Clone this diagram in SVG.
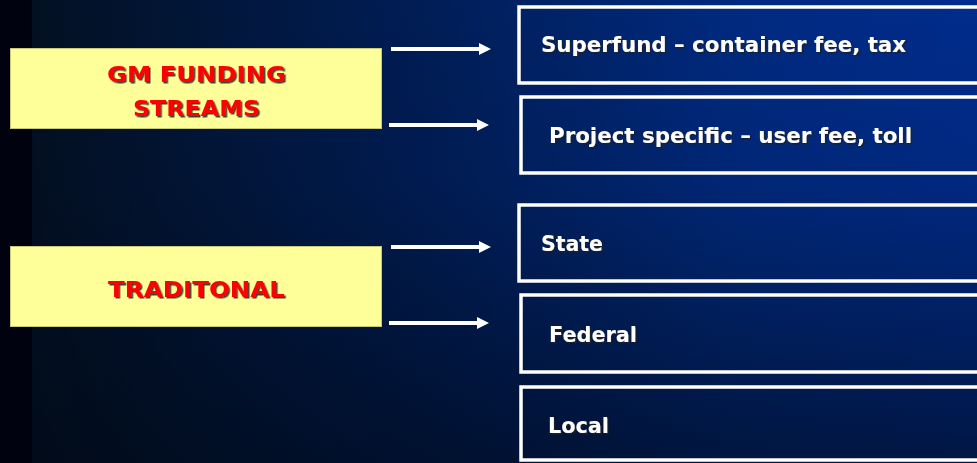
<svg xmlns="http://www.w3.org/2000/svg" width="977" height="463" viewBox="0 0 977 463">
  <defs>
    <linearGradient id="bgH" x1="0" y1="0" x2="1" y2="0">
      <stop offset="0" stop-color="#030f1e"/>
      <stop offset="0.4" stop-color="#001c52"/>
      <stop offset="0.75" stop-color="#002a80"/>
      <stop offset="1" stop-color="#002c8c"/>
    </linearGradient>
    <linearGradient id="bgV" x1="0" y1="0" x2="0" y2="1">
      <stop offset="0" stop-color="#000814" stop-opacity="0"/>
      <stop offset="0.4" stop-color="#000814" stop-opacity="0.1"/>
      <stop offset="1" stop-color="#000814" stop-opacity="0.6"/>
    </linearGradient>
    <filter id="shadow" x="-5%" y="-20%" width="110%" height="140%">
      <feDropShadow dx="1.5" dy="1.5" stdDeviation="0.2" flood-color="#1a1a1a" flood-opacity="0.85"/>
    </filter>
    <marker id="arrow" markerWidth="12" markerHeight="12" refX="0" refY="6" orient="auto" markerUnits="userSpaceOnUse">
      <path d="M0,0 L12,6 L0,12 Z" fill="#ffffff"/>
    </marker>
    <style>
      .ybox { fill: #ffff99; stroke: #c8c878; stroke-width: 1; }
      .wbox { fill: none; stroke: #ffffff; stroke-width: 3.5; }
      .red { font-family: "DejaVu Sans", "Liberation Sans", sans-serif; font-weight: bold; font-size: 22px; fill: #ff0000; filter: url(#shadow); }
      .wt { font-family: "DejaVu Sans", "Liberation Sans", sans-serif; font-weight: bold; font-size: 21px; fill: #ffffff; filter: url(#shadow); }
      .conn { stroke: #ffffff; stroke-width: 4; fill: none; marker-end: url(#arrow); }
    </style>
  </defs>

  <rect x="0" y="0" width="977" height="463" fill="url(#bgH)"/>
  <rect x="0" y="0" width="977" height="463" fill="url(#bgV)"/>
  <rect x="0" y="0" width="32" height="463" fill="#00030f"/>

  <g id="gm-funding">
    <rect class="ybox" x="10.5" y="48.5" width="371" height="80"/>
    <text class="red" x="107" y="82" textLength="179" lengthAdjust="spacingAndGlyphs">GM FUNDING</text>
    <text class="red" x="133" y="116" textLength="127" lengthAdjust="spacingAndGlyphs">STREAMS</text>
  </g>

  <g id="traditional">
    <rect class="ybox" x="10.5" y="246.5" width="371" height="80"/>
    <text class="red" x="108" y="297" textLength="177" lengthAdjust="spacingAndGlyphs">TRADITONAL</text>
  </g>

  <g id="superfund">
    <rect class="wbox" x="519" y="7" width="470" height="76"/>
    <text class="wt" x="541" y="52" textLength="365" lengthAdjust="spacingAndGlyphs">Superfund – container fee, tax</text>
  </g>

  <g id="project-specific">
    <rect class="wbox" x="521" y="97" width="470" height="76"/>
    <text class="wt" x="549" y="143" textLength="363" lengthAdjust="spacingAndGlyphs">Project specific – user fee, toll</text>
  </g>

  <g id="state">
    <rect class="wbox" x="519" y="205" width="470" height="76"/>
    <text class="wt" x="541" y="251" textLength="62" lengthAdjust="spacingAndGlyphs">State</text>
  </g>

  <g id="federal">
    <rect class="wbox" x="521" y="295" width="470" height="77"/>
    <text class="wt" x="549" y="342" textLength="88" lengthAdjust="spacingAndGlyphs">Federal</text>
  </g>

  <g id="local">
    <rect class="wbox" x="521" y="387" width="470" height="73"/>
    <text class="wt" x="548" y="433" textLength="61" lengthAdjust="spacingAndGlyphs">Local</text>
  </g>

  <g id="connectors">
    <line class="conn" x1="391" y1="49" x2="479" y2="49"/>
    <line class="conn" x1="389" y1="125" x2="477" y2="125"/>
    <line class="conn" x1="391" y1="247" x2="479" y2="247"/>
    <line class="conn" x1="389" y1="323" x2="477" y2="323"/>
  </g>
</svg>
